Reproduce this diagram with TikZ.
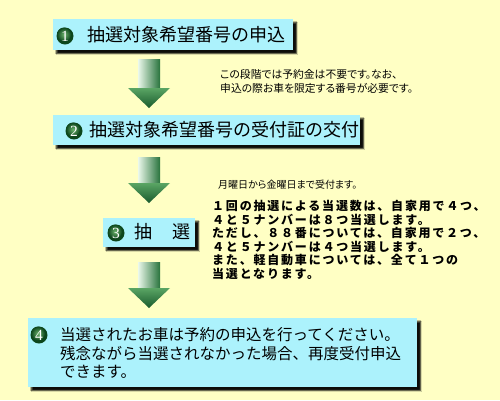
\documentclass[tikz,border=0pt]{standalone}
\usepackage{fontspec}
\newfontfamily\jp{Noto Sans CJK JP}
\newfontfamily\jpp[RawFeature=+palt]{Noto Sans CJK JP}
\newfontfamily\jpb[LetterSpace=15]{Noto Sans CJK JP}
\newfontfamily\digitfont{Liberation Serif}
\usetikzlibrary{shadows.blur}
\definecolor{bgc}{RGB}{255,255,196}
\definecolor{boxc}{RGB}{172,242,252}
\definecolor{shaftL}{RGB}{235,248,235}
\definecolor{shaftR}{RGB}{40,115,60}
\definecolor{headT}{RGB}{90,165,100}
\definecolor{headB}{RGB}{25,90,45}
\definecolor{ballIn}{RGB}{110,180,110}
\definecolor{ballOut}{RGB}{12,70,28}
\newcommand{\gArrow}[3]{%
  \shade[left color=shaftL, right color=shaftR] ({#1-11},#2) rectangle ({#1+11},{#3-20});
  \shade[top color=headT, bottom color=headB] ({#1-21},{#3-20}) -- ({#1+21},{#3-20}) -- (#1,#3) -- cycle;
}
\newcommand{\numBall}[4]{% name, x, y, digit
  \fill[ballOut] (#2,#3) circle [radius=8.5pt];
  \shade[inner color=ballIn, outer color=ballOut] ({#2-1},{#3-1.5}) circle [radius=7pt];
  \node[numtext] (#1) at (#2,{#3+0.5}) {#4};
}
\tikzset{
  stepbox/.style={fill=boxc, draw=none, inner sep=0pt, anchor=north west,
    blur shadow={shadow xshift=3.5pt, shadow yshift=-3.5pt, shadow blur radius=1.2pt, shadow blur steps=4, shadow opacity=95}},
  numtext/.style={inner sep=0pt, text=white, font=\digitfont\fontsize{15.5}{15.5}\selectfont},
  title/.style={anchor=west, inner sep=0pt, font=\jp\fontsize{18}{18}\selectfont},
  note/.style={anchor=north west, inner sep=0pt, align=left},
}
\begin{document}
\begin{tikzpicture}[x=1pt,y=-1pt]
\fill[bgc] (0,0) rectangle (500,400);
\useasboundingbox (0,0) rectangle (500,400);

% box 1
\node[stepbox, minimum width=240pt, minimum height=31pt] (b1) at (53,19) {};
\numBall{n1}{65}{36}{1}
\node[title] (t1) at (87,35) {抽選対象希望番号の申込};

% arrow 1
\gArrow{149}{59}{108}
\node[note, font=\jpp\fontsize{10.8}{14.5}\selectfont] (c1) at (220,69) {この段階では予約金は不要です。なお、\\申込の際お車を限定する番号が必要です。};

% box 2
\node[stepbox, minimum width=307pt, minimum height=30pt] (b2) at (53,115) {};
\numBall{n2}{74}{131}{2}
\node[title] (t2) at (89,130) {抽選対象希望番号の受付証の交付};

% arrow 2
\gArrow{149}{157}{203}
\node[note, font=\jpp\fontsize{10}{14}\selectfont] (c2) at (218,180) {月曜日から金曜日まで受付ます。};

% box 3
\node[stepbox, minimum width=92pt, minimum height=29pt] (b3) at (103,218) {};
\numBall{n3}{116}{233}{3}
\node[title] (t3a) at (134,232) {抽};
\node[title] (t3b) at (172,232) {選};

\node[note, font=\jpb\bfseries\fontsize{12}{13.6}\selectfont] (c3) at (212,200) {１回の抽選による当選数は、自家用で４つ、\\４と５ナンバーは８つ当選します。\\ただし、８８番については、自家用で２つ、\\４と５ナンバーは４つ当選します。\\また、軽自動車については、全て１つの\\当選となります。};

% arrow 3
\gArrow{149}{262}{308}

% box 4
\node[stepbox, minimum width=389pt, minimum height=69pt] (b4) at (28,318) {};
\numBall{n4}{39}{335}{4}
\node[note, font=\jp\fontsize{15.5}{18.5}\selectfont] (t4) at (60,327.5) {当選されたお車は予約の申込を行ってください。\\残念ながら当選されなかった場合、再度受付申込\\できます。};
\end{tikzpicture}
\end{document}
